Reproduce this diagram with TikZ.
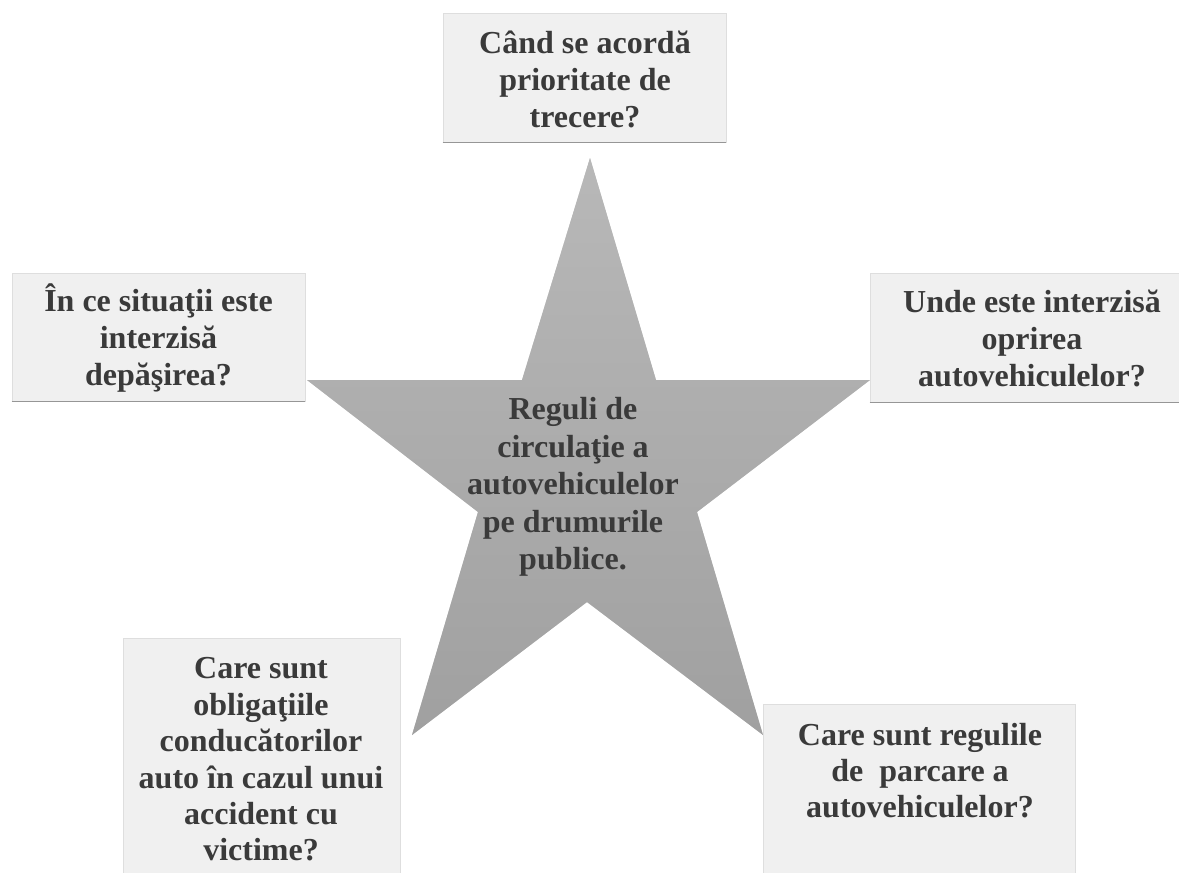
\documentclass[tikz,border=0pt]{standalone}
\usepackage{fontspec}
\setmainfont{Liberation Serif}
\definecolor{boxfill}{RGB}{240,240,240}
\definecolor{boxedge}{RGB}{222,222,222}
\definecolor{boxshadow}{RGB}{150,150,150}
\definecolor{startop}{RGB}{184,184,184}
\definecolor{starbottom}{RGB}{160,160,160}
\definecolor{starshadow}{RGB}{205,205,205}
\definecolor{txt}{RGB}{58,58,58}
\begin{document}
\begin{tikzpicture}[x=1pt,y=-1pt,
  qbox/.style={draw=boxedge, line width=0.6pt, fill=boxfill, inner sep=0pt},
  qtext/.style={text=txt, font=\fontsize{32}{37}\selectfont\bfseries, align=center, inner sep=0pt},
  shadowline/.style={draw=boxshadow, line width=1.6pt},
]
\useasboundingbox (0,0) rectangle (1179,873);

% star
\coordinate (sT)  at (590,158);
\coordinate (sUR) at (656,380);
\coordinate (sR)  at (870,380);
\coordinate (sLR) at (697,512);
\coordinate (sBR) at (763,735);
\coordinate (sB)  at (587,602);
\coordinate (sBL) at (412,735);
\coordinate (sLL) at (478,512);
\coordinate (sL)  at (307,380);
\coordinate (sUL) at (522,380);
\fill[starshadow, shift={(2,2)}] (sT) -- (sUR) -- (sR) -- (sLR) -- (sBR) -- (sB) -- (sBL) -- (sLL) -- (sL) -- (sUL) -- cycle;
\shade[top color=startop, bottom color=starbottom] (sT) -- (sUR) -- (sR) -- (sLR) -- (sBR) -- (sB) -- (sBL) -- (sLL) -- (sL) -- (sUL) -- cycle;

% boxes
\node[qbox, minimum width=283pt, minimum height=129pt] (btop) at (584.5,77.5) {};
\node[qbox, minimum width=293pt, minimum height=128pt] (bleft) at (158.5,337) {};
\node[qbox, minimum width=324pt, minimum height=129pt] (bright) at (1032,337.5) {};
\node[qbox, minimum width=277pt, minimum height=240pt] (bbl) at (261.5,758) {};
\node[qbox, minimum width=312pt, minimum height=190pt] (bbr) at (919,799) {};
\draw[shadowline] (btop.south west) -- (btop.south east);
\draw[shadowline] (bleft.south west) -- (bleft.south east);
\draw[shadowline] (bright.south west) -- (bright.south east);

% texts
\node[qtext] (ttop) at (585,79) {Când se acordă\\prioritate de\\trecere?};
\node[qtext] (tleft) at (158.5,338) {În ce situaţii este\\interzisă\\depăşirea?};
\node[qtext] (tright) at (1032,338) {Unde este interzisă\\oprirea\\autovehiculelor?};
\node[qtext, font=\fontsize{32}{36.4}\selectfont\bfseries] (tbl) at (261,759.5) {Care sunt\\obligaţiile\\conducătorilor\\auto în cazul unui\\accident cu\\victime?};
\node[qtext, font=\fontsize{32}{36}\selectfont\bfseries] (tbr) at (920,771) {Care sunt regulile\\de\ \ parcare a\\autovehiculelor?};
\node[qtext, font=\fontsize{32}{37.5}\selectfont\bfseries] (tstar) at (573,487) {Reguli de\\circulaţie a\\autovehiculelor\\pe drumurile\\publice.};
\end{tikzpicture}
\end{document}
